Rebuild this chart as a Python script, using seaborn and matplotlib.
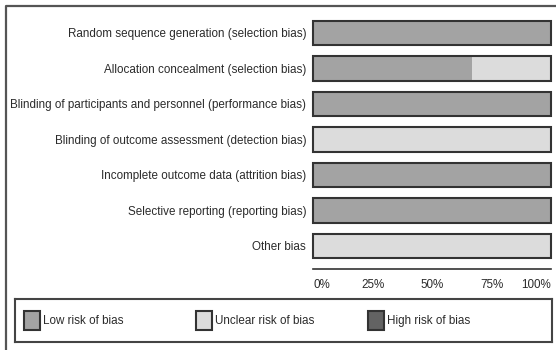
import numpy as np
import pandas as pd
import matplotlib
matplotlib.use("Agg")
import matplotlib.pyplot as plt
import seaborn as sns
from matplotlib.patches import Patch
from matplotlib.lines import Line2D

domains = [
    "Random sequence generation (selection bias)",
    "Allocation concealment (selection bias)",
    "Blinding of participants and personnel (performance bias)",
    "Blinding of outcome assessment (detection bias)",
    "Incomplete outcome data (attrition bias)",
    "Selective reporting (reporting bias)",
    "Other bias",
]
low_risk = [100, 66.7, 100, 0, 100, 100, 0]
unclear_risk = [0, 33.3, 0, 100, 0, 0, 100]
high_risk = [0, 0, 0, 0, 0, 0, 0]
tick_values = [0, 25, 50, 75, 100]
tick_labels = ["0%", "25%", "50%", "75%", "100%"]
legend_labels = ["Low risk of bias", "Unclear risk of bias", "High risk of bias"]

col_low = "#a3a3a3"
col_unclear = "#dcdcdc"
col_high = "#636363"
edge = "#333333"
text_col = "#2b2b2b"
fs = 8.4

sns.set_style("white")
plt.rcParams["font.family"] = ["Liberation Sans", "DejaVu Sans"]
plt.rcParams["font.size"] = fs

df = pd.DataFrame({"domain": domains, "low": low_risk,
                   "unclear": unclear_risk, "high": high_risk})
df["low_unclear"] = df["low"] + df["unclear"]
df["total"] = df["low_unclear"] + df["high"]

fig = plt.figure(figsize=(5.56, 3.5), dpi=100)
ax = fig.add_axes([313 / 556, 1 - 269 / 350, 238 / 556, 253.75 / 350])

# stacked bars: draw cumulative totals back to front
sns.barplot(data=df, y="domain", x="total", color=col_high, width=0.7,
            orient="h", ax=ax, saturation=1, linewidth=0)
sns.barplot(data=df, y="domain", x="low_unclear", color=col_unclear, width=0.7,
            orient="h", ax=ax, saturation=1, linewidth=0)
sns.barplot(data=df, y="domain", x="low", color=col_low, width=0.7,
            orient="h", ax=ax, saturation=1, linewidth=0)
# outline around each whole bar
sns.barplot(data=df, y="domain", x="total", fill=False, width=0.7,
            orient="h", ax=ax, edgecolor=edge, linewidth=1.5)
for p in ax.patches:
    p.set_clip_on(False)

ax.set_xlim(0, 100)
ax.set_ylim(6.65, -0.5)
ax.set_xlabel("")
ax.set_ylabel("")
for s in ["top", "right", "left"]:
    ax.spines[s].set_visible(False)
ax.spines["bottom"].set_color(edge)
ax.spines["bottom"].set_linewidth(1.2)
ax.set_xticks(tick_values)
ax.set_xticklabels(tick_labels, color=text_col, fontsize=fs)
ax.tick_params(axis="x", direction="inout", length=8, width=1.2, color=edge, pad=3)
ax.tick_params(axis="y", length=0, pad=5, labelcolor=text_col, labelsize=fs)
xl = ax.get_xticklabels()
xl[0].set_horizontalalignment("left")
xl[-1].set_horizontalalignment("right")

# legend box
lax = fig.add_axes([15 / 556, 1 - 342 / 350, 537 / 556, 43 / 350])
lax.set_xticks([])
lax.set_yticks([])
for s in lax.spines.values():
    s.set_visible(True)
    s.set_color("#444444")
    s.set_linewidth(1.5)

handles = [Patch(facecolor=c, edgecolor=edge, linewidth=1.5)
           for c in [col_low, col_unclear, col_high]]
xpos = [(24 - 15) / 537, (196 - 15) / 537, (368 - 15) / 537]
for i, (h, lab, x) in enumerate(zip(handles, legend_labels, xpos)):
    leg = lax.legend(handles=[h], labels=[lab], loc="center left",
                     bbox_to_anchor=(x, 0.5), frameon=False, borderpad=0,
                     borderaxespad=0, handlelength=1.35, handleheight=2.0,
                     handletextpad=0.25, fontsize=fs, labelcolor=text_col)
    if i < len(handles) - 1:
        lax.add_artist(leg)

# outer frame (top and left edges visible)
fig.add_artist(Line2D([6 / 556, 6 / 556, 1], [0, 1 - 6 / 350, 1 - 6 / 350],
                      transform=fig.transFigure, color="#555555", linewidth=1.6))

fig.savefig("out.png", dpi=100)
